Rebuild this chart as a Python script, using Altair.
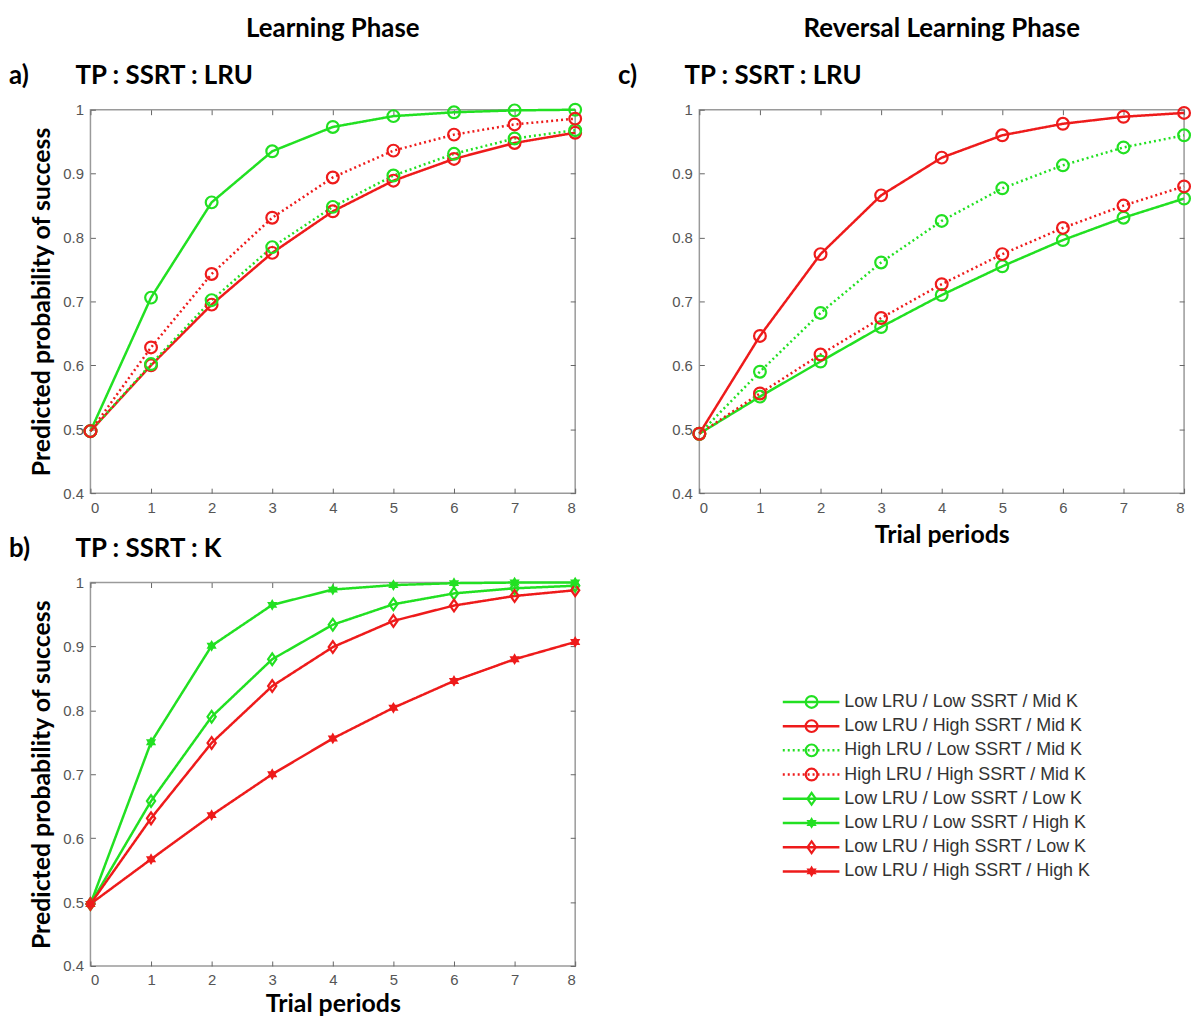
import altair as alt
import pandas as pd

trials = list(range(9))
y_ticks = [0.4, 0.5, 0.6, 0.7, 0.8, 0.9, 1.0]

series_names = [
    "Low LRU / Low SSRT / Mid K",
    "Low LRU / High SSRT / Mid K",
    "High LRU / Low SSRT / Mid K",
    "High LRU / High SSRT / Mid K",
    "Low LRU / Low SSRT / Low K",
    "Low LRU / Low SSRT / High K",
    "Low LRU / High SSRT / Low K",
    "Low LRU / High SSRT / High K",
]

# (a) Learning phase, TP : SSRT : LRU
learn_lru = {
    "Low LRU / Low SSRT / Mid K":   [0.497, 0.706, 0.855, 0.935, 0.973, 0.990, 0.996, 0.999, 1.000],
    "Low LRU / High SSRT / Mid K":  [0.497, 0.600, 0.695, 0.776, 0.841, 0.889, 0.923, 0.948, 0.964],
    "High LRU / Low SSRT / Mid K":  [0.497, 0.602, 0.702, 0.785, 0.848, 0.897, 0.931, 0.955, 0.968],
    "High LRU / High SSRT / Mid K": [0.497, 0.628, 0.743, 0.831, 0.894, 0.936, 0.961, 0.977, 0.986],
}
# (b) Learning phase, TP : SSRT : K
learn_k = {
    "Low LRU / Low SSRT / Low K":   [0.497, 0.658, 0.790, 0.880, 0.934, 0.966, 0.983, 0.991, 0.995],
    "Low LRU / Low SSRT / High K":  [0.497, 0.750, 0.901, 0.965, 0.989, 0.996, 0.999, 1.000, 1.000],
    "Low LRU / High SSRT / Low K":  [0.497, 0.631, 0.749, 0.838, 0.899, 0.940, 0.964, 0.979, 0.988],
    "Low LRU / High SSRT / High K": [0.497, 0.567, 0.636, 0.700, 0.756, 0.804, 0.846, 0.880, 0.907],
}
# (c) Reversal learning phase, TP : SSRT : LRU
reversal_lru = {
    "Low LRU / Low SSRT / Mid K":   [0.493, 0.551, 0.606, 0.660, 0.710, 0.755, 0.796, 0.831, 0.861],
    "Low LRU / High SSRT / Mid K":  [0.493, 0.646, 0.774, 0.866, 0.925, 0.960, 0.978, 0.989, 0.995],
    "High LRU / Low SSRT / Mid K":  [0.493, 0.590, 0.682, 0.761, 0.826, 0.877, 0.913, 0.941, 0.960],
    "High LRU / High SSRT / Mid K": [0.493, 0.556, 0.617, 0.674, 0.727, 0.774, 0.815, 0.850, 0.880],
}

GREEN = "#22e022"
RED = "#ee1b1b"
DIAMOND = "M0,-1L0.7,0L0,1L-0.7,0Z"
STAR = ("M0,-1L0.289,-0.5L0.866,-0.5L0.577,0L0.866,0.5L0.289,0.5L0,1"
        "L-0.289,0.5L-0.866,0.5L-0.577,0L-0.866,-0.5L-0.289,-0.5Z")
series_colors = [GREEN, RED, GREEN, RED, GREEN, GREEN, RED, RED]
series_dash = [[1, 0], [1, 0], [2, 3], [2, 3], [1, 0], [1, 0], [1, 0], [1, 0]]
series_shapes = ["circle"] * 4 + [DIAMOND, STAR, DIAMOND, STAR]
series_sizes = [140] * 4 + [240, 290, 240, 290]
series_filled = [False] * 5 + [True, False, True]

FRAME = "#9a9a9a"
TITLE_FONT = "Lato"
LABEL_FONT = "Liberation Sans"
LABEL_SIZE = 15
PANEL_W = 488
PANEL_H = 386

color_enc = alt.Color("series:N", scale=alt.Scale(domain=series_names, range=series_colors), legend=None)
dash_enc = alt.StrokeDash("series:N", scale=alt.Scale(domain=series_names, range=series_dash), legend=None)
shape_enc = alt.Shape("series:N", scale=alt.Scale(domain=series_names, range=series_shapes), legend=None)
size_enc = alt.Size("series:O", scale=alt.Scale(domain=series_names, range=series_sizes), legend=None)

xscale = alt.Scale(domain=[0, 8], nice=False, zero=False)
yscale = alt.Scale(domain=[0.4, 1.0], nice=False, zero=False)


def to_long(d):
    rows = []
    for name, vals in d.items():
        filled = series_filled[series_names.index(name)]
        for t, v in zip(trials, vals):
            rows.append({"series": name, "trial": t, "p": v, "filled": filled})
    return pd.DataFrame(rows)


def panel(d, letter, subtitle, col_title=None, y_title=True, x_title=False, x_title_pad=4):
    df = to_long(d)
    base = alt.Chart(df)
    x_main = alt.X("trial:Q", scale=xscale, axis=alt.Axis(
        orient="bottom", values=trials, format="d", offset=-5, tickSize=5,
        domain=False, grid=False, labelPadding=7, labelFontSize=LABEL_SIZE,
        labelFont=LABEL_FONT, labelColor="#555555",
        title="Trial periods" if x_title else None, titlePadding=x_title_pad,
        titleFontSize=25))
    y_main = alt.Y("p:Q", scale=yscale, axis=alt.Axis(
        orient="left", values=y_ticks, format="~g", offset=-5, tickSize=5,
        domain=False, grid=False, labelPadding=7, labelFontSize=LABEL_SIZE,
        labelFont=LABEL_FONT, labelColor="#555555",
        title="Predicted probability of success" if y_title else None, titlePadding=8,
        titleFontSize=25))
    x_top = alt.X("trial:Q", scale=xscale, axis=alt.Axis(
        orient="top", values=trials, labels=False, offset=-5, tickSize=5,
        domain=False, grid=False, title=None))
    y_right = alt.Y("p:Q", scale=yscale, axis=alt.Axis(
        orient="right", values=y_ticks, labels=False, offset=-5, tickSize=5,
        domain=False, grid=False, title=None))
    lines = base.mark_line(strokeWidth=2.5, clip=False).encode(
        x=x_main, y=y_main, color=color_enc, strokeDash=dash_enc, order="trial:Q")
    hollow = base.transform_filter("!datum.filled").mark_point(
        filled=False, strokeWidth=2.2, opacity=1).encode(
        x=x_top, y=y_right, color=color_enc, shape=shape_enc, size=size_enc)
    solid = base.transform_filter("datum.filled").mark_point(
        filled=True, opacity=1, strokeWidth=1).encode(
        x=alt.X("trial:Q", scale=xscale, axis=None),
        y=alt.Y("p:Q", scale=yscale, axis=None),
        color=color_enc, shape=shape_enc, size=size_enc)
    t_letter = alt.Chart(alt.Data(values=[{"t": letter}])).mark_text(
        align="left", baseline="alphabetic", font=TITLE_FONT, fontWeight="bold",
        fontSize=26, color="black").encode(
        x=alt.value(-82), y=alt.value(-26), text="t:N")
    t_sub = alt.Chart(alt.Data(values=[{"t": subtitle}])).mark_text(
        align="left", baseline="alphabetic", font=TITLE_FONT, fontWeight="bold",
        fontSize=26, color="black").encode(
        x=alt.value(-15), y=alt.value(-26), text="t:N")
    ch = alt.layer(lines, hollow, solid, t_letter, t_sub).resolve_axis(
        x="independent", y="independent")
    props = dict(width=PANEL_W, height=PANEL_H)
    if col_title:
        props["title"] = alt.TitleParams(
            col_title, anchor="middle", frame="group", font=TITLE_FONT,
            fontWeight="bold", fontSize=26, color="black", offset=21)
    return ch.properties(**props)


pa = panel(learn_lru, "a)", "TP : SSRT : LRU", col_title="Learning Phase")
pb = panel(learn_k, "b)", "TP : SSRT : K", x_title=True, x_title_pad=4)
pc = panel(reversal_lru, "c)", "TP : SSRT : LRU", col_title="Reversal Learning Phase",
           y_title=False, x_title=True, x_title_pad=8)

leg_df = pd.DataFrame({"series": series_names, "filled": series_filled})
ly = alt.Y("series:N", sort=series_names, axis=None,
           scale=alt.Scale(type="point", domain=series_names, padding=0.5))
leg_base = alt.Chart(leg_df)
leg_rule = leg_base.mark_rule(strokeWidth=2.5).encode(
    x=alt.value(84), x2=alt.value(141), y=ly, color=color_enc, strokeDash=dash_enc)
leg_hollow = leg_base.transform_filter("!datum.filled").mark_point(
    filled=False, strokeWidth=2.2, opacity=1).encode(
    x=alt.value(113), y=ly, color=color_enc, shape=shape_enc, size=size_enc)
leg_solid = leg_base.transform_filter("datum.filled").mark_point(
    filled=True, opacity=1).encode(
    x=alt.value(113), y=ly, color=color_enc, shape=shape_enc, size=size_enc)
leg_text = leg_base.mark_text(
    align="left", baseline="middle", font=LABEL_FONT, fontSize=18, color="#333333").encode(
    x=alt.value(146), y=ly, text="series:N")
legend = alt.layer(leg_rule, leg_hollow, leg_solid, leg_text).properties(
    width=420, height=195, view=alt.ViewBackground(strokeOpacity=0))

left = alt.vconcat(pa, pb, spacing=19)
right = alt.vconcat(pc, legend, spacing=142)

chart = alt.hconcat(left, right, spacing=30).properties(
    padding={"top": 4, "left": 0, "right": 0, "bottom": 0}
).configure_view(
    stroke=FRAME, strokeWidth=1.5
).configure_axis(
    labelFont=LABEL_FONT, labelFontSize=LABEL_SIZE, labelColor="#555555",
    tickColor="#666666", tickWidth=1,
    titleFont=TITLE_FONT, titleFontSize=24, titleFontWeight="bold", titleColor="black",
)

chart.save("out.html", embed_options={"renderer": "svg", "actions": False})
